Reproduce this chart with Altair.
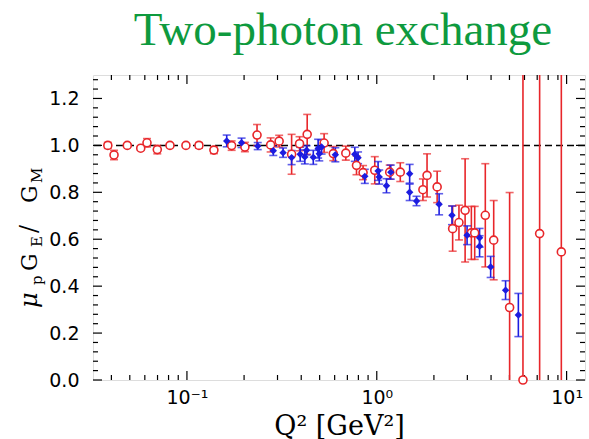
import altair as alt
import pandas as pd

# Rosenbluth-type points (open red circles)
red_q2 = [0.0383, 0.0413, 0.0485, 0.0571, 0.0616, 0.0698, 0.0814, 0.0988, 0.1157, 0.1387,
          0.172, 0.202, 0.234, 0.276, 0.306, 0.356, 0.392, 0.430, 0.528, 0.590,
          0.687, 0.782, 0.847, 0.976, 1.17, 1.33, 1.75, 1.84, 2.08, 2.51,
          2.71, 2.92, 3.15, 3.28, 3.73, 4.13, 5.01, 5.89, 7.21, 9.38]
red_ratio = [1.000, 0.959, 1.000, 0.988, 1.011, 0.982, 1.000, 1.000, 1.000, 0.980,
             0.999, 0.993, 1.044, 1.002, 1.018, 0.962, 1.007, 1.047, 1.010, 0.965,
             0.967, 0.915, 0.884, 0.894, 0.886, 0.886, 0.811, 0.872, 0.823, 0.645,
             0.671, 0.723, 0.627, 0.627, 0.702, 0.596, 0.309, 0.000, 0.624, 0.546]
red_err = [0.013, 0.020, 0.005, 0.008, 0.018, 0.018, 0.005, 0.005, 0.012, 0.015,
           0.020, 0.020, 0.045, 0.030, 0.025, 0.085, 0.030, 0.085, 0.040, 0.030,
           0.030, 0.040, 0.030, 0.058, 0.030, 0.040, 0.046, 0.092, 0.067, 0.096,
           0.074, 0.220, 0.113, 0.113, 0.220, 0.169, 0.490, 1.500, 1.000, 1.000]

# Polarization-transfer points (filled blue diamonds)
blue_q2 = [0.162, 0.194, 0.236, 0.285, 0.321, 0.356, 0.395, 0.418, 0.427, 0.463,
           0.491, 0.512, 0.498, 0.605, 0.766, 0.797, 0.865, 1.016, 1.03, 1.125,
           1.185, 1.49, 1.49, 1.62, 2.13, 2.49, 2.99, 3.48, 3.48, 3.98,
           4.77, 5.57]
blue_ratio = [1.019, 1.011, 0.997, 0.977, 0.969, 0.948, 0.962, 0.951, 0.979, 0.949,
              0.986, 0.993, 0.964, 0.960, 0.962, 0.947, 0.868, 0.891, 0.865, 0.828,
              0.886, 0.879, 0.800, 0.763, 0.749, 0.702, 0.617, 0.606, 0.570, 0.482,
              0.383, 0.277]
blue_err = [0.025, 0.020, 0.015, 0.020, 0.020, 0.030, 0.030, 0.030, 0.020, 0.030,
            0.040, 0.030, 0.030, 0.030, 0.030, 0.025, 0.030, 0.040, 0.030, 0.030,
            0.030, 0.040, 0.035, 0.020, 0.045, 0.040, 0.040, 0.040, 0.045, 0.045,
            0.040, 0.092]

# Axis tick positions
x_major = [0.1, 1.0, 10.0]
x_minor = [m * d for d in (0.01, 0.1, 1.0) for m in range(2, 10) if 0.032 < m * d < 12.5]
y_major = [0.0, 0.2, 0.4, 0.6, 0.8, 1.0, 1.2]
y_minor = [round(0.04 * k, 2) for k in range(1, 33) if k % 5 != 0]

RED = "#e8262a"
BLUE = "#1c1ce0"
GREEN = "#0e9a3e"
W, H = 492, 305
Y_MIN, Y_MAX = 0.0, 1.3

xs = alt.Scale(type="log", domain=[0.032, 12.5], nice=False)
ys = alt.Scale(domain=[Y_MIN, Y_MAX], nice=False, zero=False)

x_axis = alt.Axis(
    values=x_major,
    labelExpr="datum.value < 0.5 ? '10\u207b\u00b9' : (datum.value < 5 ? '10\u2070' : '10\u00b9')",
    ticks=False, domain=False, grid=False,
    labelFont="DejaVu Sans", labelFontSize=19, labelColor="black", labelPadding=8,
    title="Q\u00b2 [GeV\u00b2]", titleFont="DejaVu Serif", titleFontSize=27,
    titleFontWeight="normal", titleColor="black", titlePadding=6,
)
y_axis = alt.Axis(
    values=y_major, format=".1f",
    ticks=False, domain=False, grid=False,
    labelFont="DejaVu Sans", labelFontSize=19, labelColor="black", labelPadding=14,
    title=None,
)


def X(field):
    return alt.X(field, type="quantitative", scale=xs, axis=x_axis)


def Y(field):
    return alt.Y(field, type="quantitative", scale=ys, axis=y_axis)


red = pd.DataFrame({"q2": red_q2, "r": red_ratio, "e": red_err})
blue = pd.DataFrame({"q2": blue_q2, "r": blue_ratio, "e": blue_err})


def x_ticks(values, length):
    base = alt.Chart(pd.DataFrame({"v": values})).mark_rule(color="black", strokeWidth=1.2)
    return [
        base.encode(x=X("v"), y=alt.value(H), y2=alt.value(H - length)),
        base.encode(x=X("v"), y=alt.value(0), y2=alt.value(length)),
    ]


def y_ticks(values, length):
    base = alt.Chart(pd.DataFrame({"v": values})).mark_rule(color="black", strokeWidth=1.2)
    return [
        base.encode(y=Y("v"), x=alt.value(0), x2=alt.value(length)),
        base.encode(y=Y("v"), x=alt.value(W), x2=alt.value(W - length)),
    ]


def error_bars(df, color):
    base = alt.Chart(df).transform_calculate(
        lo=f"max(datum.r - datum.e, {Y_MIN})",
        hi=f"min(datum.r + datum.e, {Y_MAX})",
    )
    stem = base.mark_rule(color=color, strokeWidth=1.6).encode(x=X("q2"), y=Y("lo"), y2="hi:Q")
    cap = dict(color=color, orient="horizontal", size=8, thickness=1.6)
    cap_lo = base.transform_filter(f"datum.r - datum.e >= {Y_MIN}").mark_tick(**cap).encode(
        x=X("q2"), y=Y("lo"))
    cap_hi = base.transform_filter(f"datum.r + datum.e <= {Y_MAX}").mark_tick(**cap).encode(
        x=X("q2"), y=Y("hi"))
    return [stem, cap_lo, cap_hi]


dashed = alt.Chart(pd.DataFrame({"one": [1.0]})).mark_rule(
    color="black", strokeWidth=1.5, strokeDash=[7, 4]).encode(y=Y("one"))

red_pts = alt.Chart(red).mark_circle(
    fill="white", stroke=RED, strokeWidth=1.6, size=64, opacity=1).encode(x=X("q2"), y=Y("r"))

blue_pts = alt.Chart(blue).mark_point(
    shape="diamond", filled=True, color=BLUE, size=55, opacity=1).encode(x=X("q2"), y=Y("r"))

one = pd.DataFrame({"k": [0]})


def rot_text(txt, size, x, y, style="normal"):
    # rotated piece of the y-axis title
    return alt.Chart(one).mark_text(
        text=txt, angle=270, align="left", baseline="alphabetic",
        font="DejaVu Serif", fontSize=size, fontStyle=style, color="black").encode(
        x=alt.value(x), y=alt.value(y))


# y-axis title: mu_p G_E / G_M with subscripts
y_title = [
    rot_text("\u03bc", 24, -56, 233, "italic"),
    rot_text("p", 15, -51, 210),
    rot_text("G", 22, -56, 196),
    rot_text("E", 15, -51, 172),
    rot_text("/", 24, -56, 158),
    rot_text("G", 22, -56, 128),
    rot_text("M", 15, -51, 108),
]

# chart heading
heading = alt.Chart(one).mark_text(
    text="Two-photon exchange", align="center", baseline="alphabetic",
    font="Liberation Serif", fontSize=47, color=GREEN).encode(
    x=alt.value(250), y=alt.value(-30))

layers = (
    x_ticks(x_major, 9) + x_ticks(x_minor, 5) + y_ticks(y_major, 9) + y_ticks(y_minor, 5)
    + [dashed] + error_bars(red, RED) + error_bars(blue, BLUE)
    + [red_pts, blue_pts] + y_title + [heading]
)

chart = alt.layer(*layers).properties(
    width=W, height=H,
    autosize=alt.AutoSizeParams(type="none"),
    padding={"left": 93, "top": 75, "right": 4, "bottom": 59},
).configure_view(stroke="black", strokeWidth=1.8).configure(background="white")

chart.save("out.html", embed_options={"renderer": "svg", "actions": False})
